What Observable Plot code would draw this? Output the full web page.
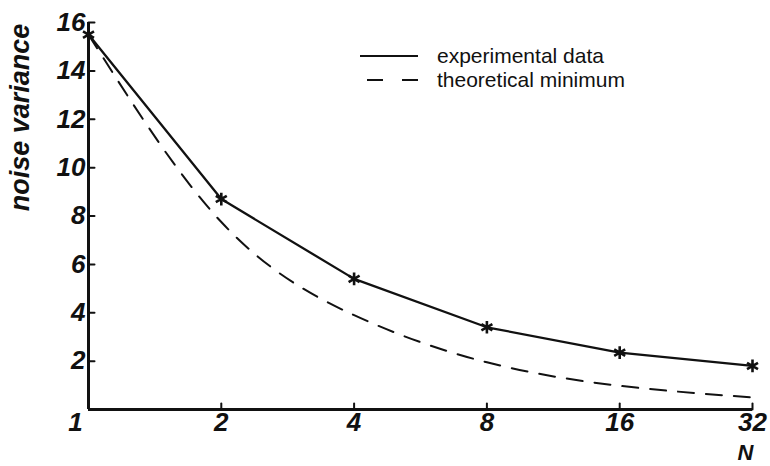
<!DOCTYPE html>
<html>
<head>
<meta charset="utf-8">
<script src="https://cdn.jsdelivr.net/npm/d3@7"></script>
<script src="https://cdn.jsdelivr.net/npm/@observablehq/plot@0.6"></script>
<style>
  body { margin: 0; background: #fff; }
  #wrap { position: relative; width: 770px; height: 466px; }
  #legend { position: absolute; left: 360px; top: 44px; font-family: "Liberation Sans", Arial, sans-serif; font-size: 21px; color: #111; }
  .row { display: flex; align-items: center; height: 24px; }
  .row svg { width: 60px; height: 10px; margin-right: 17px; }
</style>
</head>
<body>
<div id="wrap">
  <div id="chart"></div>
  <div id="legend">
    <div class="row"><svg><line x1="0" y1="5" x2="58" y2="5" stroke="#111" stroke-width="2"/></svg><span>experimental data</span></div>
    <div class="row"><svg><line x1="7" y1="5" x2="58" y2="5" stroke="#111" stroke-width="2" stroke-dasharray="16,19"/></svg><span>theoretical minimum</span></div>
  </div>
</div>
<script>
const N = [1, 2, 4, 8, 16, 32];
const experimental = [15.5, 8.7, 5.4, 3.4, 2.35, 1.8];
const theoretical = [15.5, 7.75, 3.9, 1.95, 0.98, 0.5];
const xTicks = [2, 4, 8, 16, 32];
const yTicks = [2, 4, 6, 8, 10, 12, 14, 16];

const expData = N.map((n, i) => ({n, v: experimental[i]}));
const theoData = N.map((n, i) => ({n, v: theoretical[i]}));

const tickFont = {fontFamily: "'Liberation Sans', Arial, sans-serif", fontWeight: "bold", fontStyle: "italic", fontSize: 26};
const tickShapeUp = {draw(ctx, l) { ctx.moveTo(0, 0); ctx.lineTo(0, -l); }};

const chart = Plot.plot({
  width: 770,
  height: 466,
  marginLeft: 88,
  marginRight: 18,
  marginTop: 22,
  marginBottom: 57,
  style: {background: "white", color: "#111", overflow: "visible"},
  x: {type: "log", base: 2, domain: [1, 32]},
  y: {domain: [0, 16]},
  marks: [
    // axis lines
    Plot.ruleY([0], {x1: 1, x2: 32, strokeWidth: 3, stroke: "#111"}),
    Plot.ruleX([1], {y1: 0, y2: 16, strokeWidth: 3, stroke: "#111"}),
    // inward ticks
    Plot.vector(xTicks, {x: d => d, y: 0, length: 6, anchor: "start", shape: tickShapeUp, strokeWidth: 2, stroke: "#111"}),
    Plot.vector(yTicks, {x: 1, y: d => d, length: 6, rotate: 90, anchor: "start", shape: tickShapeUp, strokeWidth: 2, stroke: "#111"}),
    // tick labels
    Plot.axisX({ticks: xTicks, tickSize: 0, tickPadding: 3, tickFormat: d => String(d), label: null, ...tickFont, fill: "#111"}),
    Plot.axisX({ticks: [1], tickSize: 0, tickPadding: 3, dx: -13, tickFormat: d => String(d), label: null, ...tickFont, fill: "#111"}),
    Plot.axisY({ticks: yTicks, tickSize: 0, tickPadding: 3, label: null, ...tickFont, fill: "#111"}),
    // axis titles
    Plot.text(["noise variance"], {frameAnchor: "top-left", dx: -68, dy: 95, rotate: -90, textAnchor: "middle", lineAnchor: "middle", ...tickFont, fontSize: 27, fill: "#111"}),
    Plot.text(["N"], {frameAnchor: "bottom-right", dx: -7, dy: 43, textAnchor: "middle", lineAnchor: "middle", ...tickFont, fontSize: 22, fill: "#111"}),
    // data
    Plot.line(theoData, {x: "n", y: "v", curve: "natural", stroke: "#111", strokeWidth: 2, strokeDasharray: "16,12"}),
    Plot.line(expData, {x: "n", y: "v", stroke: "#111", strokeWidth: 2.3}),
    Plot.dot(expData, {x: "n", y: "v", symbol: "asterisk", r: 6, stroke: "#111", strokeWidth: 2.6})
  ]
});
document.getElementById("chart").appendChild(chart);
</script>
</body>
</html>
